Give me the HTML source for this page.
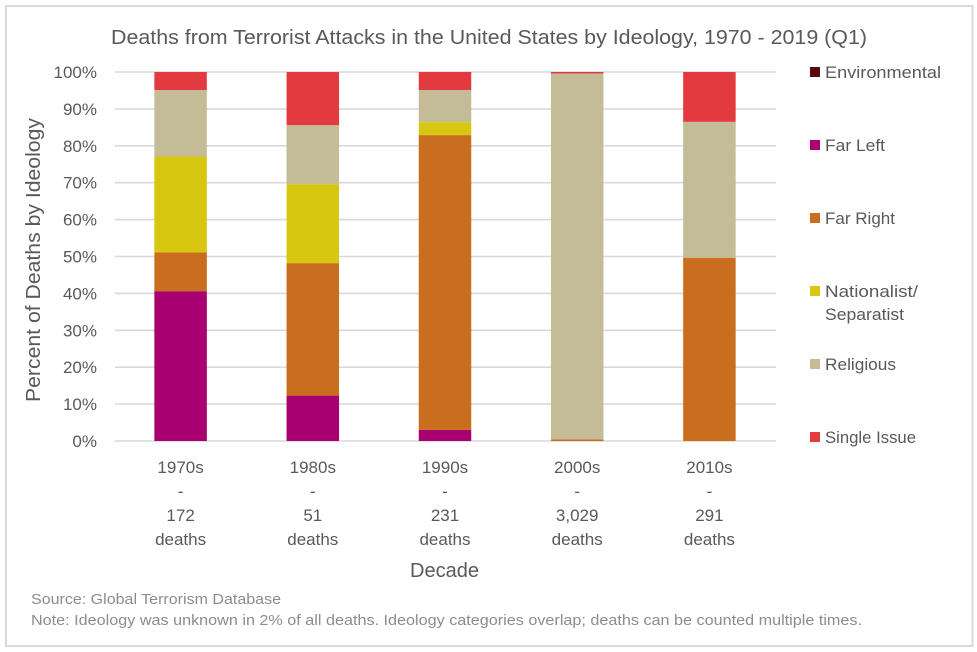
<!DOCTYPE html>
<html lang="en">
<head>
<meta charset="utf-8">
<title>Deaths from Terrorist Attacks in the United States by Ideology</title>
<style>
  html, body { margin: 0; padding: 0; background: #fff; }
  svg { display: block; font-family: "Liberation Sans", sans-serif; }
  text { fill: #595959; }
</style>
</head>
<body>
<svg id="chart" width="977" height="652" viewBox="0 0 977 652" xmlns="http://www.w3.org/2000/svg">
  <rect x="0" y="0" width="977" height="652" fill="#ffffff"/>
  <rect x="6" y="6" width="966.5" height="640" fill="none" stroke="#d9d9d9" stroke-width="2"/>
  <text x="111" y="44" font-size="20" textLength="756" lengthAdjust="spacingAndGlyphs">Deaths from Terrorist Attacks in the United States by Ideology, 1970 - 2019 (Q1)</text>
  <text transform="translate(40 260) rotate(-90)" text-anchor="middle" font-size="20" textLength="284" lengthAdjust="spacingAndGlyphs">Percent of Deaths by Ideology</text>
  <text x="444.5" y="577" text-anchor="middle" font-size="20" textLength="69" lengthAdjust="spacingAndGlyphs">Decade</text>
  <g id="grid"></g>
  <g id="y-ticks"></g>
  <g id="bars"></g>
  <g id="x-ticks"></g>

  <g font-size="16.5">
    <g>
      <rect x="810" y="67" width="10" height="10" fill="#5a0a0e"/>
      <text x="825" y="78" textLength="116" lengthAdjust="spacingAndGlyphs">Environmental</text>
    </g>
    <g>
      <rect x="810" y="140" width="10" height="10" fill="#a80070"/>
      <text x="825" y="151" textLength="60" lengthAdjust="spacingAndGlyphs">Far Left</text>
    </g>
    <g>
      <rect x="810" y="213" width="10" height="10" fill="#c96e1f"/>
      <text x="825" y="224" textLength="70" lengthAdjust="spacingAndGlyphs">Far Right</text>
    </g>
    <g>
      <rect x="810" y="286" width="10" height="10" fill="#d7c710"/>
      <text x="825" y="297" textLength="93" lengthAdjust="spacingAndGlyphs">Nationalist/</text>
      <text x="825" y="320" textLength="79" lengthAdjust="spacingAndGlyphs">Separatist</text>
    </g>
    <g>
      <rect x="810" y="359" width="10" height="10" fill="#c4bc96"/>
      <text x="825" y="370" textLength="71" lengthAdjust="spacingAndGlyphs">Religious</text>
    </g>
    <g>
      <rect x="810" y="432" width="10" height="10" fill="#e33a3f"/>
      <text x="825" y="443" textLength="91" lengthAdjust="spacingAndGlyphs">Single Issue</text>
    </g>
  </g>

  <text x="31" y="604" font-size="15" style="fill:#8c8c8c" textLength="250" lengthAdjust="spacingAndGlyphs">Source: Global Terrorism Database</text>
  <text x="31" y="625" font-size="15" style="fill:#8c8c8c" textLength="831" lengthAdjust="spacingAndGlyphs">Note: Ideology was unknown in 2% of all deaths. Ideology categories overlap; deaths can be counted multiple times.</text>
</svg>

<script>
// Chart data
const decades = ["1970s", "1980s", "1990s", "2000s", "2010s"];
const deathCounts = ["172", "51", "231", "3,029", "291"];
const yTickValues = [0, 10, 20, 30, 40, 50, 60, 70, 80, 90, 100];
const environmental = [0, 0, 0, 0, 0];
const farLeft = [40.6, 12.3, 3.0, 0.0, 0.0];
const farRight = [10.5, 35.9, 79.9, 0.4, 49.6];
const nationalistSeparatist = [26.0, 21.4, 3.5, 0.0, 0.0];
const religious = [18.0, 16.0, 8.7, 99.2, 36.9];
const singleIssue = [4.9, 14.4, 4.9, 0.4, 13.5];

const seriesStack = [
  { key: "environmental", values: environmental, color: "#5a0a0e" },
  { key: "far-left", values: farLeft, color: "#a80070" },
  { key: "far-right", values: farRight, color: "#c96e1f" },
  { key: "nationalist-separatist", values: nationalistSeparatist, color: "#d7c710" },
  { key: "religious", values: religious, color: "#c4bc96" },
  { key: "single-issue", values: singleIssue, color: "#e33a3f" }
];

const SVG_NS = "http://www.w3.org/2000/svg";
const plotLeft = 115;
const plotRight = 776;
const plotTop = 72;
const plotBottom = 441;
const barWidth = 52.5;
const categoryOffset = -0.5;

function yScale(percent) {
  return plotBottom - (percent / 100) * (plotBottom - plotTop);
}
function xCenter(index) {
  return plotLeft + categoryOffset + (index + 0.5) * (plotRight - plotLeft) / decades.length;
}
function make(tag, attrs) {
  const el = document.createElementNS(SVG_NS, tag);
  Object.keys(attrs).forEach(function (k) { el.setAttribute(k, attrs[k]); });
  return el;
}

const gridGroup = document.getElementById("grid");
const yTickGroup = document.getElementById("y-ticks");
yTickValues.forEach(function (tick) {
  const line = make("line", { x1: plotLeft, x2: plotRight, y1: yScale(tick), y2: yScale(tick), stroke: "#d9d9d9", "stroke-width": 1.6 });
  
  
  gridGroup.appendChild(line);

  const label = make("text", { x: 97, y: yScale(tick) + 6, "text-anchor": "end", "font-size": 17 });
  
  
  label.textContent = tick + "%";
  yTickGroup.appendChild(label);
});

const barGroup = document.getElementById("bars");
decades.forEach(function (decade, i) {
  let cumulative = 0;
  seriesStack.forEach(function (series) {
    const value = series.values[i];
    if (value > 0) {
      const top = yScale(cumulative + value);
      const bottom = yScale(cumulative);
      const rect = make("rect", { x: xCenter(i) - barWidth / 2, y: top, width: barWidth, height: bottom - top, fill: series.color });
      
      
      barGroup.appendChild(rect);
    }
    cumulative += value;
  });
});

const xTickGroup = document.getElementById("x-ticks");
decades.forEach(function (decade, i) {
  const lines = [decade, "-", deathCounts[i], "deaths"];
  const group = make("g", { "text-anchor": "middle", "font-size": 17 });
  
  
  lines.forEach(function (content, n) {
    const t = make("text", { x: xCenter(i), y: 473 + n * 24 });
    
    
    t.textContent = content;
    group.appendChild(t);
  });
  xTickGroup.appendChild(group);
});
</script>
</body>
</html>
